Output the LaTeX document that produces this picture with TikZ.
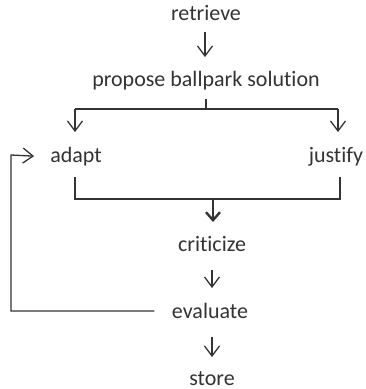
\documentclass[tikz,border=0pt]{standalone}
\usepackage{fontspec}
\setmainfont[Ligatures={NoCommon,NoRare,NoDiscretionary}]{Carlito}
\usetikzlibrary{arrows.meta,calc}
\definecolor{ink}{HTML}{333333}
\begin{document}
\begin{tikzpicture}[x=1pt,y=1pt,
  lbl/.style={anchor=base,inner sep=0pt,text=ink,font=\fontsize{22}{26}\selectfont},
  conn/.style={draw=ink,line width=1.3pt},
  arr/.style={conn,-{Straight Barb[length=10pt,width=15pt,line width=1.3pt]}},
  barr/.style={draw=ink,line width=2.6pt,-{Straight Barb[length=8pt,width=14pt,line width=2.4pt]}}]
\useasboundingbox (0,0) rectangle (366,-389);
\node[lbl] (retrieve) at (206,-20) {retrieve};
\node[lbl] (propose) at (206,-86) {propose ballpark solution};
\node[lbl] (adapt) at (76,-162) {adapt};
\node[lbl] (justify) at (336,-162) {justify};
\node[lbl] (criticize) at (212,-251) {cri\kern0pt ti\kern0pt cize};
\node[lbl] (evaluate) at (210,-318) {evaluate};
\node[lbl] (store) at (212,-385) {store};
% junction coordinates
\coordinate (split) at (206,-109);
\coordinate (splitL) at (75,-109);
\coordinate (splitR) at (338,-109);
\coordinate (mergeL) at (75,-199);
\coordinate (mergeR) at (340,-199);
\coordinate (merge) at (213,-199);
\coordinate (loopB) at (11,-311);
\coordinate (loopT) at (11,-155);
% connectors
\draw[arr] ($(retrieve.base)+(-1,-12)$) -- ($(propose.base)+(-1,29)$);
\draw[conn] ($(propose.base)+(0,-13)$) -- (split);
\draw[conn] (splitL) -- (splitR);
\draw[arr] (splitL) -- ($(adapt.base)+(-1,30)$);
\draw[arr] (splitR) -- ($(justify.base)+(2,30)$);
\draw[conn] ($(adapt.base)+(-1,-15)$) -- (mergeL) -- (mergeR) -- ($(justify.base)+(4,-15)$);
\draw[barr] (merge) -- ($(criticize.base)+(1,29)$);
\draw[arr] ($(criticize.base)+(0,-19)$) -- ($(evaluate.base)+(2,30)$);
\draw[arr] ($(evaluate.base)+(2,-19)$) -- ($(store.base)+(0,28)$);
\draw[arr] ($(evaluate.west)+(-18,0)$) |- (loopB) -- (loopT) -- ($(adapt.west)+(-16,0)$);
\end{tikzpicture}
\end{document}
